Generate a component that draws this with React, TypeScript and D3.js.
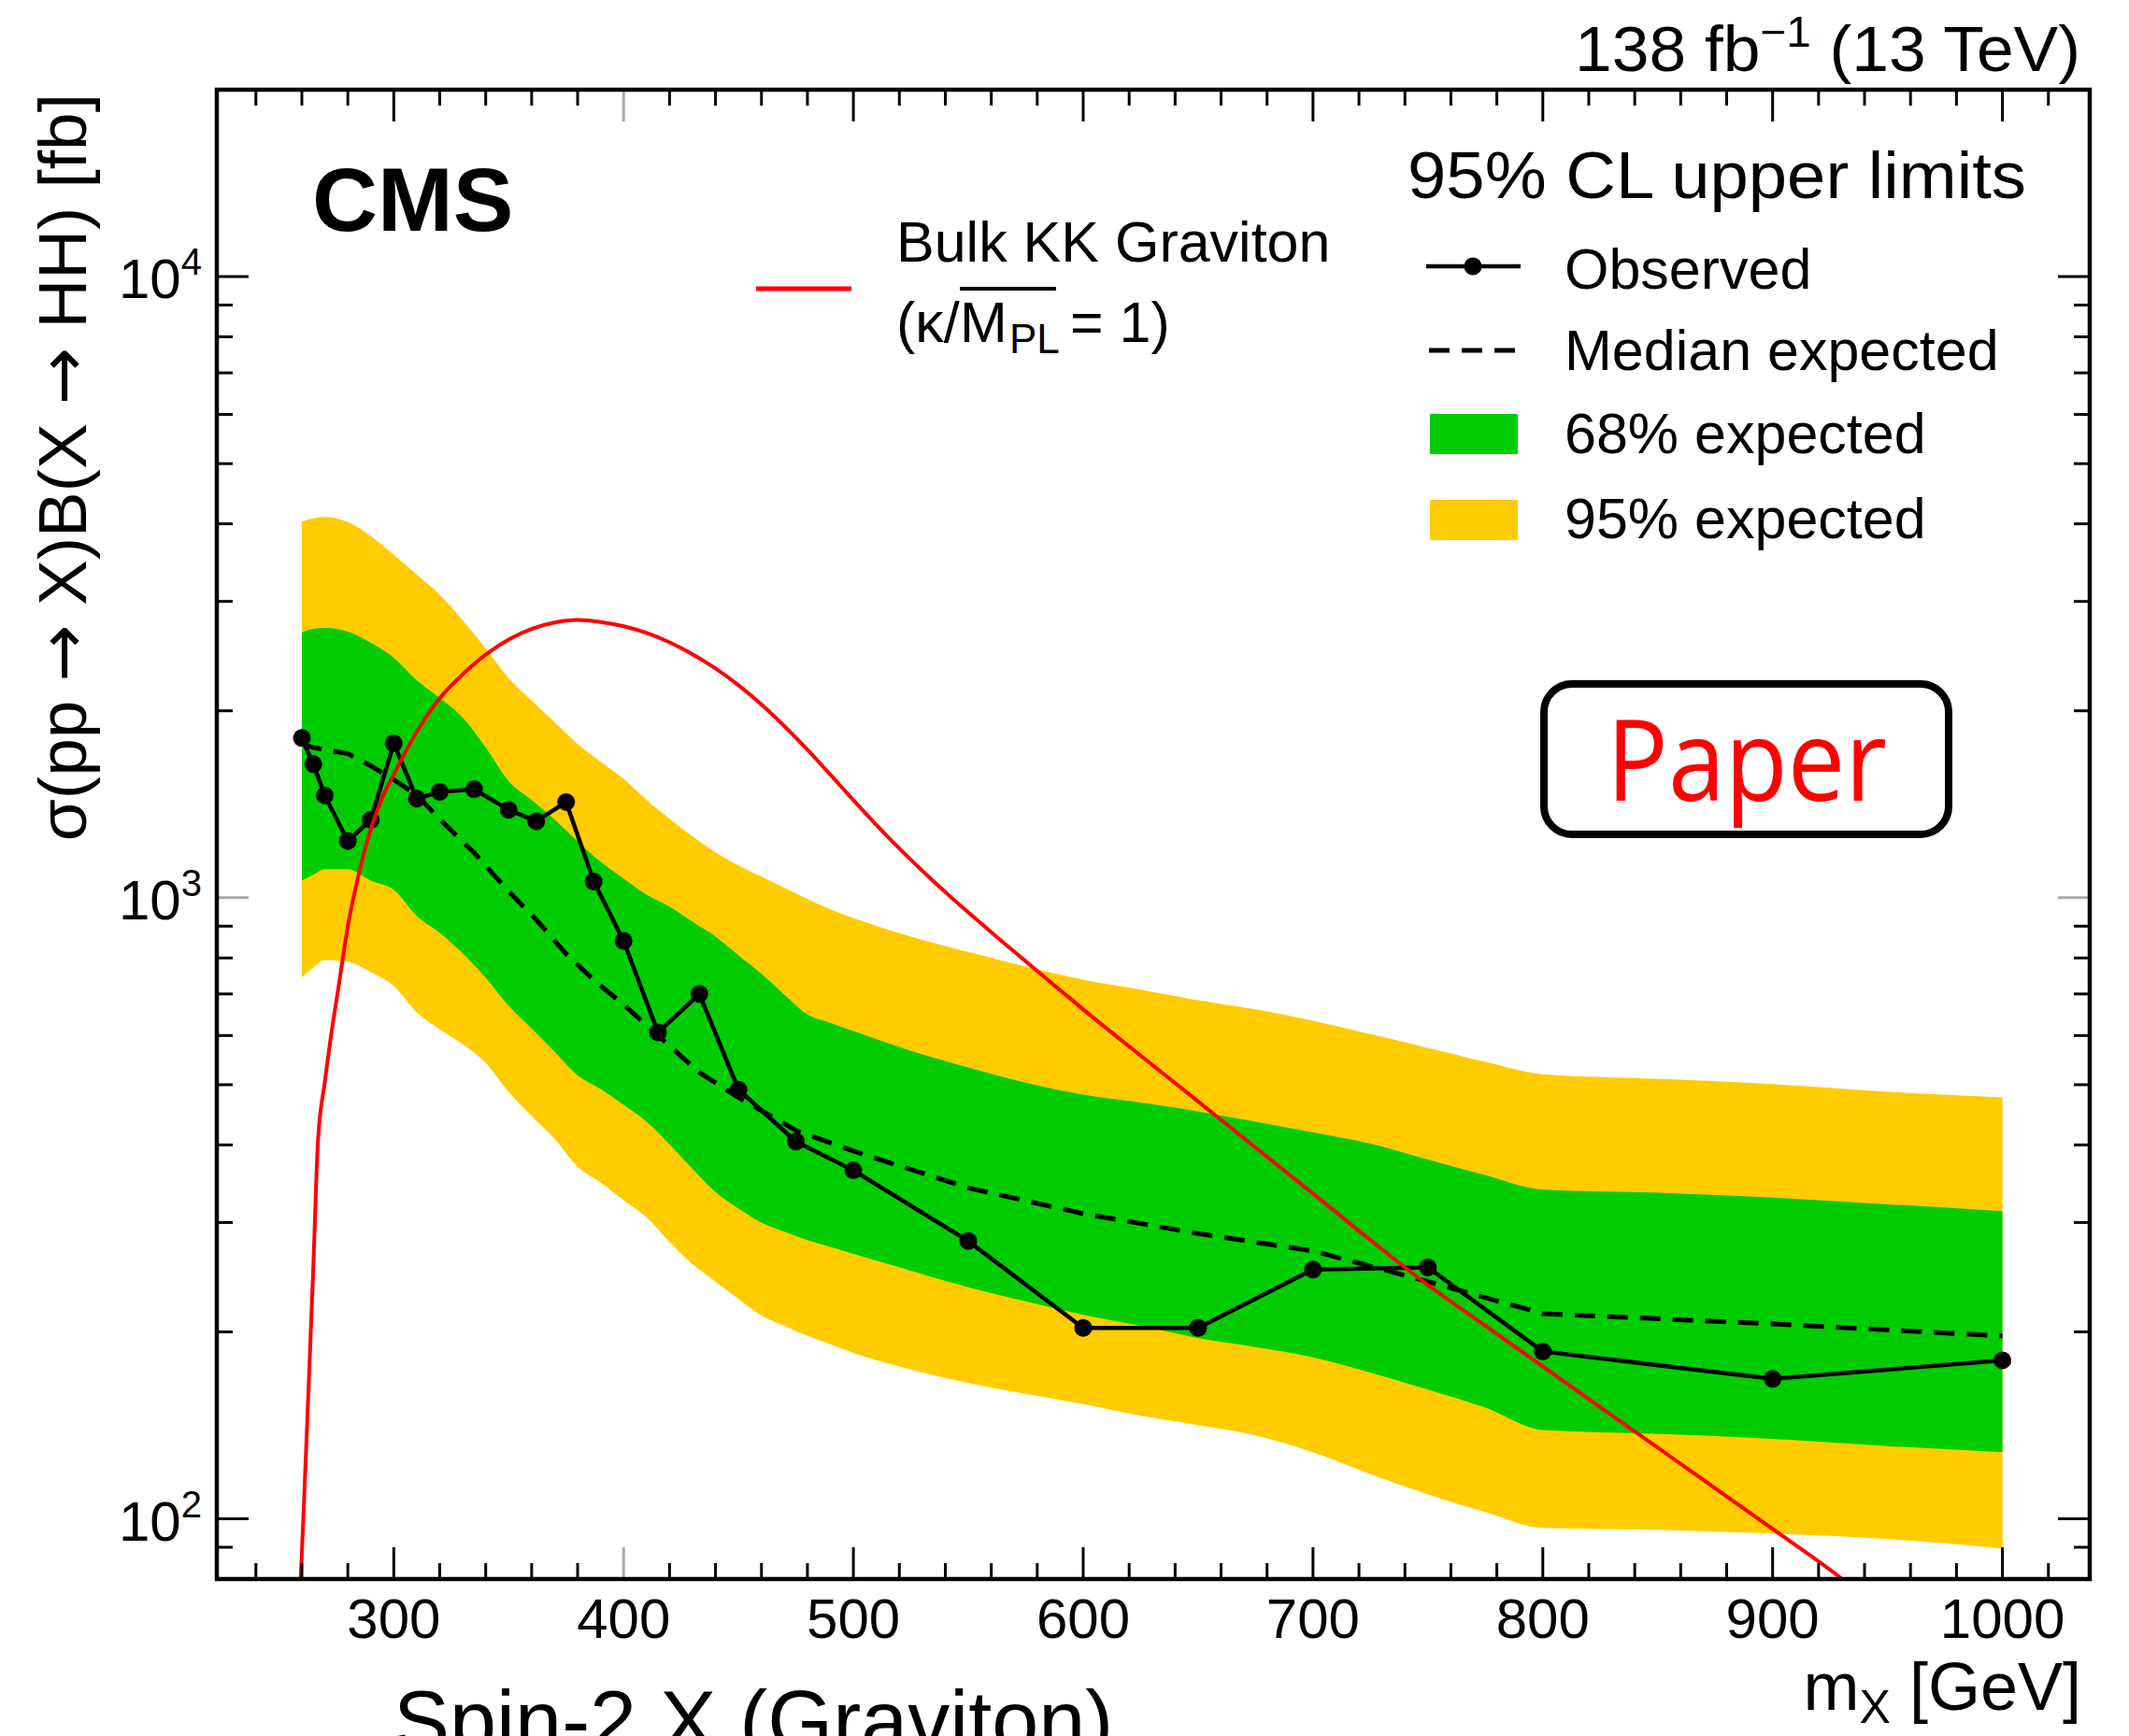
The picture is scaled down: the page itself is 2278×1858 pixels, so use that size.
import React from 'react';
import * as d3 from 'd3';

const W = 2278;
const H = 1858;

// ---- data ----
// observed / expected limits at the signal mass points
const massPoints = [260, 265, 270, 280, 290, 300, 310, 320, 335, 350, 362, 375, 387, 400, 415, 433, 450, 475, 500, 550, 600, 650, 700, 750, 800, 900, 1000];
const observed = [1808, 1641, 1461, 1234, 1335, 1773, 1444, 1481, 1495, 1385, 1328, 1426, 1062, 852, 607, 700, 491, 405, 364, 280, 203, 203, 252, 254, 186, 168, 180];
const expected = [1770, 1745, 1732, 1706, 1631, 1549, 1464, 1338, 1181, 1024, 922, 812, 737, 673, 600, 523, 477, 422, 391, 341, 310, 288, 270, 241, 214, 206, 197];

// expected bands, sampled along their edges
const bandMass = [260, 265, 270, 280, 290, 300, 310, 320, 330, 340, 350, 360, 370, 380, 390, 400, 410, 420, 430, 440, 450, 460, 470, 480, 490, 500, 525, 550, 575, 600, 625, 650, 675, 700, 725, 750, 775, 800, 850, 900, 950, 1000];
const band95High = [4033, 4082, 4103, 4026, 3822, 3566, 3315, 3072, 2797, 2520, 2256, 2076, 1916, 1769, 1656, 1554, 1437, 1341, 1255, 1183, 1127, 1081, 1037, 995, 958, 928, 866, 818, 775, 738, 711, 684, 661, 634, 603, 573, 544, 520, 511, 501, 487, 477];
const band68High = [2674, 2711, 2720, 2683, 2573, 2435, 2240, 2097, 1950, 1745, 1540, 1437, 1336, 1233, 1143, 1074, 1012, 968, 915, 866, 808, 754, 698, 649, 629, 610, 567, 533, 504, 482, 468, 453, 436, 419, 402, 379, 357.5, 339, 335, 329, 321, 313];
const band68Low = [1066, 1089, 1112, 1112, 1066, 1030, 935, 878, 814, 743, 670, 616, 565, 518, 492, 464, 436, 401, 366, 336, 316, 300, 290, 281, 274, 267, 251, 236, 224, 213, 204.5, 195.5, 189, 182, 172, 161.5, 151, 139, 137, 134.5, 131, 128];
const band95Low = [743, 772, 794, 789, 759, 721, 654, 614, 581, 542, 487, 445, 409, 369, 348, 326, 306, 279, 257, 241, 226, 212.5, 204.5, 197, 191, 185, 174, 165.5, 159, 153, 146.6, 141.6, 136.3, 128, 118, 109.5, 102.6, 96.7, 96, 94.7, 92.8, 89.6];

// Bulk KK graviton theory curve
const theoryMass = [259.4, 261, 263, 265, 267, 270, 273, 276, 280, 285, 290, 295, 300, 310, 320, 330, 340, 350, 360, 370, 380, 390, 400, 410, 420, 430, 440, 450, 460, 470, 480, 490, 500, 510, 520, 530, 540, 550, 560, 570, 580, 590, 600, 625, 650, 675, 700, 725, 750, 775, 800, 825, 850, 875, 900, 925, 935];
const theoryXsec = [78, 108, 165, 255, 405, 505, 610, 720, 900, 1100, 1290, 1450, 1580, 1850, 2095, 2290, 2463, 2605, 2710, 2775, 2800, 2780, 2736, 2669, 2578, 2467, 2340, 2199, 2047, 1889, 1731, 1578, 1436, 1310, 1200, 1105, 1021, 947, 880, 819, 762, 710, 661, 557, 470, 396, 334, 281, 238, 204.6, 176, 151.3, 130.2, 112, 96.3, 82.8, 77.5];

const xMajorTicks = [300, 400, 500, 600, 700, 800, 900, 1000];
const xMinorTicks = [240, 260, 280, 320, 340, 360, 380, 420, 440, 460, 480, 520, 540, 560, 580, 620, 640, 660, 680, 720, 740, 760, 780, 820, 840, 860, 880, 920, 940, 960, 980, 1020];
const yMajorTicks = [100, 1000, 10000];
const yMajorExp = ['2', '3', '4'];
const yMinorTicks = [90, 200, 300, 400, 500, 600, 700, 800, 900, 2000, 3000, 4000, 5000, 6000, 7000, 8000, 9000];

const legendLabels = ['Observed', 'Median expected', '68% expected', '95% expected'];

const FONT = "'Liberation Sans', Arial, Helvetica, sans-serif";
const ARROW_FONT = "'DejaVu Sans', sans-serif";
const YELLOW = '#FFCC00';
const GREEN = '#00CC00';
const RED = '#FF0000';

export default function App() {
  const L = 232, R = 2236, T = 96, B = 1690;
  const x = d3.scaleLinear().domain([223, 1038]).range([L, R]);
  const y = d3.scaleLog().domain([80, 20000]).range([B, T]);

  const bandPath = (lo: number[], hi: number[]) =>
    d3.area<number>()
      .x((d) => x(d))
      .y0((_, i) => y(lo[i]))
      .y1((_, i) => y(hi[i]))
      .curve(d3.curveMonotoneX)(bandMass) || '';

  const linePath = (vals: number[]) =>
    d3.line<number>().x((d) => x(d)).y((_, i) => y(vals[i]))(massPoints) || '';

  const theoryPath = d3.line<number>()
    .x((d) => x(d))
    .y((_, i) => y(theoryXsec[i]))
    .curve(d3.curveMonotoneX)(theoryMass) || '';

  const majLen = 34, minLen = 17;
  const tickStroke = 3;
  const legendY = [309, 396, 485, 576];

  return (
    <div style={{ position: 'absolute', left: 0, top: 0, width: W, height: H, overflow: 'hidden', background: '#fff' }}>
      <svg width={W} height={H} viewBox={`0 0 ${W} ${H}`} style={{ display: 'block' }} fontFamily={FONT}>
        <defs>
          <clipPath id="plotClip">
            <rect x={L} y={T} width={R - L} height={B - T} />
          </clipPath>
        </defs>
        <rect x={0} y={0} width={W} height={H} fill="#fff" />

        <g clipPath="url(#plotClip)">
          <path d={bandPath(band95Low, band95High)} fill={YELLOW} />
          <path d={bandPath(band68Low, band68High)} fill={GREEN} />
          <path d={linePath(expected)} fill="none" stroke="#000" strokeWidth={5} strokeDasharray="22 13" />
          <path d={linePath(observed)} fill="none" stroke="#000" strokeWidth={4.5} />
          {massPoints.map((m, i) => (
            <circle key={m} cx={x(m)} cy={y(observed[i])} r={9.5} fill="#000" />
          ))}
          <path d={theoryPath} fill="none" stroke={RED} strokeWidth={4} />
        </g>

        {/* ticks */}
        <g stroke="#000" strokeWidth={tickStroke}>
          {xMajorTicks.map((v) => {
            const c = v === 400 ? '#aaa' : '#000';
            return (
              <g key={'xM' + v} stroke={c}>
                <line x1={x(v)} x2={x(v)} y1={B} y2={B - majLen} />
                <line x1={x(v)} x2={x(v)} y1={T} y2={T + majLen} />
              </g>
            );
          })}
          {xMinorTicks.map((v) => (
            <g key={'xm' + v}>
              <line x1={x(v)} x2={x(v)} y1={B} y2={B - minLen} />
              <line x1={x(v)} x2={x(v)} y1={T} y2={T + minLen} />
            </g>
          ))}
          {yMajorTicks.map((v) => {
            const c = v === 1000 ? '#aaa' : '#000';
            return (
              <g key={'yM' + v} stroke={c}>
                <line x1={L} x2={L + majLen} y1={y(v)} y2={y(v)} />
                <line x1={R} x2={R - majLen} y1={y(v)} y2={y(v)} />
              </g>
            );
          })}
          {yMinorTicks.map((v) => (
            <g key={'ym' + v}>
              <line x1={L} x2={L + minLen} y1={y(v)} y2={y(v)} />
              <line x1={R} x2={R - minLen} y1={y(v)} y2={y(v)} />
            </g>
          ))}
        </g>

        {/* frame */}
        <rect x={L} y={T} width={R - L} height={B - T} fill="none" stroke="#000" strokeWidth={4.5} />

        {/* x tick labels */}
        {xMajorTicks.map((v) => (
          <text key={'xl' + v} x={x(v)} y={B + 63} fontSize={60} textAnchor="middle" fill="#000">{v}</text>
        ))}
        {/* y tick labels */}
        {yMajorTicks.map((v, i) => (
          <text key={'yl' + v} x={216} y={y(v) + 23} fontSize={60} textAnchor="end" fill="#000">
            10<tspan fontSize={40} dy={-25}>{yMajorExp[i]}</tspan>
          </text>
        ))}

        {/* axis titles */}
        <text x={2227} y={1830} fontSize={72} textAnchor="end" fill="#000">
          m<tspan fontSize={50} dy={14}>X</tspan><tspan dy={-14}> [GeV]</tspan>
        </text>
        <text transform="translate(92,100) rotate(-90)" fontSize={73} textAnchor="end" fill="#000">
          σ(pp <tspan fontFamily={ARROW_FONT}>→</tspan> X)B(X <tspan fontFamily={ARROW_FONT}>→</tspan> HH) [fb]
        </text>

        {/* top right lumi */}
        <text x={2226} y={76} fontSize={69} textAnchor="end" textLength={541} lengthAdjust="spacingAndGlyphs" fill="#000">
          138 fb<tspan fontSize={46} dy={-26}>−1</tspan><tspan dy={26}> (13 TeV)</tspan>
        </text>

        {/* CMS */}
        <text x={334} y={247} fontSize={97} fontWeight="bold" fill="#000">CMS</text>

        {/* Bulk KK legend */}
        <line x1={809} x2={911} y1={309} y2={309} stroke={RED} strokeWidth={5} />
        <text x={959} y={280} fontSize={61} fill="#000">Bulk KK Graviton</text>
        <text x={959} y={366} fontSize={61} fill="#000">(κ/</text>
        <text x={1027} y={366} fontSize={61} fill="#000">M</text>
        <text x={1080} y={378} fontSize={44} fill="#000">PL</text>
        <line x1={1027} x2={1130} y1={309} y2={309} stroke="#000" strokeWidth={4} />
        <text x={1145} y={366} fontSize={61} fill="#000">= 1)</text>

        {/* main legend */}
        <text x={1506} y={212} fontSize={71} textLength={662} lengthAdjust="spacingAndGlyphs" fill="#000">95% CL upper limits</text>
        <line x1={1526} x2={1627} y1={285} y2={285} stroke="#000" strokeWidth={4.5} />
        <circle cx={1576} cy={285} r={9.5} fill="#000" />
        <line x1={1529} x2={1624} y1={375} y2={375} stroke="#000" strokeWidth={5} strokeDasharray="22 13" />
        <rect x={1530} y={443} width={94} height={43} fill={GREEN} />
        <rect x={1530} y={535} width={94} height={43} fill={YELLOW} />
        {legendLabels.map((lab, i) => (
          <text key={lab} x={1674} y={legendY[i]} fontSize={61} fill="#000">{lab}</text>
        ))}

        {/* Paper box */}
        <rect x={1652} y={732} width={433} height={161} rx={30} ry={30} fill="#fff" stroke="#000" strokeWidth={8} />
        <text x={1719} y={857} fontSize={120} textLength={300} lengthAdjust="spacingAndGlyphs" fill={RED} fontFamily="'Open Sans', 'Noto Sans', sans-serif">Paper</text>

        {/* caption at the bottom, cut off by the edge as in the reference */}
        <text x={421} y={1873} fontSize={90} fill="#000">Spin-2 X (Graviton)</text>
      </svg>
    </div>
  );
}
